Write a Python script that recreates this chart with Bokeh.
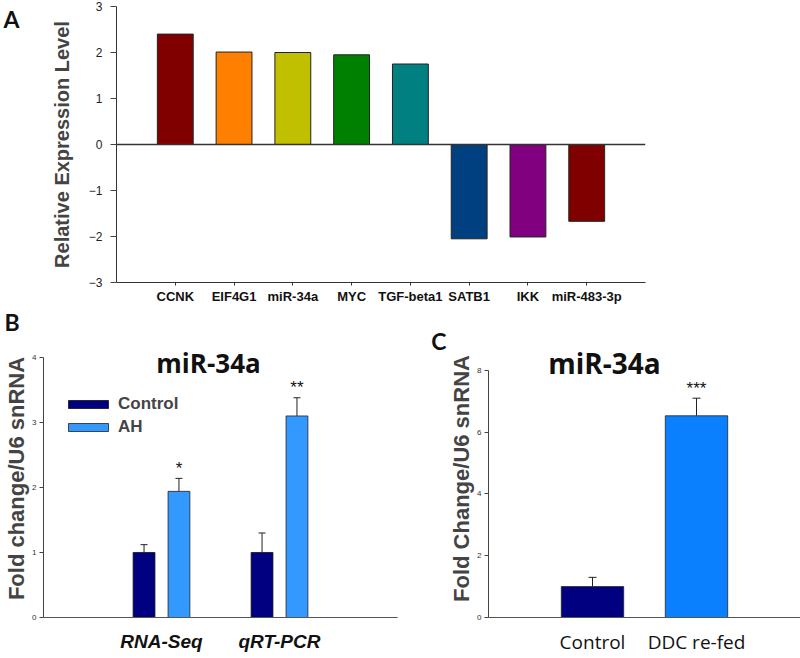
from bokeh.plotting import figure
from bokeh.models import (FactorRange, Range1d, Span, Whisker, TeeHead, Label, Title,
                          ColumnDataSource, FixedTicker, LinearAxis)
from bokeh.layouts import column, row
from bokeh.transform import dodge
from bokeh.embed import file_html
from bokeh.resources import INLINE
from bokeh.core.properties import value

# ---------------- data ----------------
genes = ["CCNK", "EIF4G1", "miR-34a", "MYC", "TGF-beta1", "SATB1", "IKK", "miR-483-3p"]
expr = [2.40, 2.01, 2.00, 1.95, 1.75, -2.05, -2.01, -1.67]
gene_colors = ["#800000", "#ff8000", "#c0c000", "#008000", "#008080",
               "#004080", "#800080", "#800000"]
a_yticks = [-3, -2, -1, 0, 1, 2, 3]

methods = ["RNA-Seq", "qRT-PCR"]
b_control = [1.00, 1.00]
b_control_err = [0.12, 0.30]
b_ah = [1.94, 3.10]
b_ah_err = [0.20, 0.28]
b_sig = ["*", "**"]
b_yticks = [0, 1, 2, 3, 4]

c_groups = ["Control", "DDC re-fed"]
c_vals = [1.00, 6.53]
c_err = [0.30, 0.57]
c_sig = ["", "***"]
c_colors = ["#000080", "#0b80ff"]
c_yticks = [0, 2, 4, 6, 8]

SANS = "Liberation Sans"
OPEN = "Open Sans"
LETTER = "Lato"


def clean(p):
    p.outline_line_color = None
    p.xgrid.grid_line_color = None
    p.ygrid.grid_line_color = None
    p.background_fill_color = "white"
    p.border_fill_color = "white"


def style_y(ax, ticks, size, tick_out, standoff):
    ax.ticker = FixedTicker(ticks=ticks)
    ax.minor_tick_line_color = None
    ax.major_tick_out = tick_out
    ax.major_tick_in = 0
    ax.major_label_standoff = standoff
    ax.major_label_text_font = SANS
    ax.major_label_text_font_size = size
    ax.major_label_text_color = "#333333"
    ax.axis_line_color = "#444444"
    ax.major_tick_line_color = "#444444"


def letter_axis(text, at, standoff):
    # a bare axis whose single tick label is the panel letter
    return LinearAxis(ticker=FixedTicker(ticks=[at]), major_label_overrides={at: text},
                      axis_line_color=None, major_tick_line_color=None,
                      minor_tick_line_color=None, major_tick_out=0, major_tick_in=0,
                      major_label_standoff=standoff, major_label_text_font=LETTER,
                      major_label_text_font_style="bold", major_label_text_font_size="23px",
                      major_label_text_color="#111111")


# ---------------- Panel A ----------------
pa = figure(x_range=FactorRange(factors=genes, range_padding=0.5, range_padding_units="absolute"),
            y_range=Range1d(-3, 3), width=800, height=306,
            output_backend="svg", toolbar_location=None,
            min_border_left=116, min_border_right=155, min_border_top=6, min_border_bottom=22)
clean(pa)
srcA = ColumnDataSource(dict(gene=genes, expr=expr, color=gene_colors))
pa.vbar(x="gene", top="expr", bottom=0, width=0.61, fill_color="color",
        line_color="#222222", line_width=1, source=srcA)
pa.add_layout(Span(location=0, dimension="width", line_color="#333333", line_width=1.3))

ya = pa.yaxis[0]
style_y(ya, a_yticks, "12px", 6, 8)
ya.major_label_text_color = "#222222"
ya.axis_line_color = "#333333"
ya.axis_label = "Relative Expression Level"
ya.axis_label_text_font = SANS
ya.axis_label_text_font_style = "bold"
ya.axis_label_text_font_size = "20px"
ya.axis_label_standoff = 13

xa = pa.xaxis[0]
xa.major_tick_out = 3
xa.major_tick_in = 0
xa.major_label_standoff = 3
xa.major_label_text_font = SANS
xa.major_label_text_font_style = "bold"
xa.major_label_text_font_size = "13px"
xa.major_label_text_color = "#111111"
xa.axis_line_color = "#333333"
xa.major_tick_line_color = "#333333"

pa.add_layout(letter_axis("A", 2.92, 28), "left")

# ---------------- Panel B ----------------
pb = figure(x_range=FactorRange(factors=methods, range_padding=0.5, range_padding_units="absolute"),
            y_range=Range1d(0, 4.276), width=428, height=352,
            output_backend="svg", toolbar_location=None,
            min_border_left=43, min_border_right=31, min_border_top=32, min_border_bottom=41)
clean(pb)
srcB = ColumnDataSource(dict(
    method=methods,
    ctrl=b_control,
    ctrl_up=[v + e for v, e in zip(b_control, b_control_err)],
    ah=b_ah,
    ah_up=[v + e for v, e in zip(b_ah, b_ah_err)],
    sig=b_sig,
))
OFF = 0.148
pb.vbar(x=dodge("method", -OFF, range=pb.x_range), top="ctrl", width=0.185,
        fill_color="#000080", line_color="#111111", line_width=0.8,
        source=srcB, legend_label="Control")
pb.vbar(x=dodge("method", OFF, range=pb.x_range), top="ah", width=0.185,
        fill_color="#3399ff", line_color="#222222", line_width=0.8,
        source=srcB, legend_label="AH")
pb.add_layout(Whisker(base=dodge("method", -OFF, range=pb.x_range), lower="ctrl", upper="ctrl_up",
                      source=srcB, line_color="#222222", line_width=1,
                      upper_head=TeeHead(size=7, line_color="#222222", line_width=1),
                      lower_head=None))
pb.add_layout(Whisker(base=dodge("method", OFF, range=pb.x_range), lower="ah", upper="ah_up",
                      source=srcB, line_color="#222222", line_width=1,
                      upper_head=TeeHead(size=7, line_color="#222222", line_width=1),
                      lower_head=None))
pb.text(x=dodge("method", OFF, range=pb.x_range), y="ah_up", text="sig", source=srcB,
        text_align="center", text_baseline="alphabetic", y_offset=-10,
        text_font=value(SANS), text_font_size="17px", text_color="#111111")

yb = pb.yaxis[0]
style_y(yb, b_yticks, "8px", 4, 3)
yb.bounds = (0, 4)
yb.axis_label = "Fold change/U6 snRNA"
yb.axis_label_text_font = SANS
yb.axis_label_text_font_style = "bold"
yb.axis_label_text_font_size = "22px"
yb.axis_label_standoff = 0

xb = pb.xaxis[0]
xb.major_tick_line_color = None
xb.major_label_standoff = 7
xb.major_label_text_font = SANS
xb.major_label_text_font_style = "bold italic"
xb.major_label_text_font_size = "19px"
xb.major_label_text_color = "#111111"
xb.axis_line_color = "#555555"

lg = pb.legend[0]
lg.location = (20, 180)
lg.glyph_width = 50
lg.glyph_height = 10
lg.label_text_font = SANS
lg.label_text_font_style = "bold"
lg.label_text_font_size = "17px"
lg.label_height = 20
lg.label_standoff = 5
lg.spacing = 3
lg.padding = 0
lg.margin = 0
lg.border_line_color = None
lg.background_fill_alpha = 0

pb.add_layout(Label(x=165, y=255, x_units="screen", y_units="screen", text="miR-34a",
                    text_align="center", text_baseline="middle", text_font=OPEN,
                    text_font_style="bold", text_font_size="26px", text_color="#111111"))
pb.add_layout(Title(text="B", align="left", offset=-39, standoff=3, vertical_align="top",
                    text_font=LETTER, text_font_style="bold", text_font_size="23px",
                    text_color="#111111"), "above")

# ---------------- Panel C ----------------
pc = figure(x_range=FactorRange(factors=c_groups, range_padding=0.5, range_padding_units="absolute"),
            y_range=Range1d(0, 9.0), width=372, height=352,
            output_backend="svg", toolbar_location=None,
            min_border_left=58, min_border_right=0, min_border_top=32, min_border_bottom=41)
clean(pc)
srcC = ColumnDataSource(dict(
    grp=c_groups, val=c_vals,
    up=[v + e for v, e in zip(c_vals, c_err)],
    sig=c_sig, color=c_colors,
))
pc.vbar(x="grp", top="val", width=0.6, fill_color="color", line_color="#222222",
        line_width=0.8, source=srcC)
pc.add_layout(Whisker(base="grp", lower="val", upper="up", source=srcC,
                      line_color="#222222", line_width=1,
                      upper_head=TeeHead(size=8, line_color="#222222", line_width=1),
                      lower_head=None))
pc.text(x="grp", y="up", text="sig", source=srcC,
        text_align="center", text_baseline="alphabetic", y_offset=-10,
        text_font=value(SANS), text_font_size="17px", text_color="#111111")

yc = pc.yaxis[0]
style_y(yc, c_yticks, "8px", 4, 3)
yc.bounds = (0, 8)
yc.axis_label = "Fold Change/U6 snRNA"
yc.axis_label_text_font = SANS
yc.axis_label_text_font_style = "bold"
yc.axis_label_text_font_size = "22px"
yc.axis_label_standoff = 0

xc = pc.xaxis[0]
xc.major_tick_line_color = None
xc.major_label_standoff = 5
xc.major_label_text_font = OPEN
xc.major_label_text_font_size = "19px"
xc.major_label_text_color = "#111111"
xc.axis_line_color = "#555555"

pc.add_layout(Label(x=116, y=255, x_units="screen", y_units="screen", text="miR-34a",
                    text_align="center", text_baseline="middle", text_font=OPEN,
                    text_font_style="bold", text_font_size="28px", text_color="#111111"))
pc.add_layout(letter_axis("C", 8.95, 0), "left")

layout = column(pa, row(pb, pc))
open("out.html", "w").write(file_html(layout, INLINE))
